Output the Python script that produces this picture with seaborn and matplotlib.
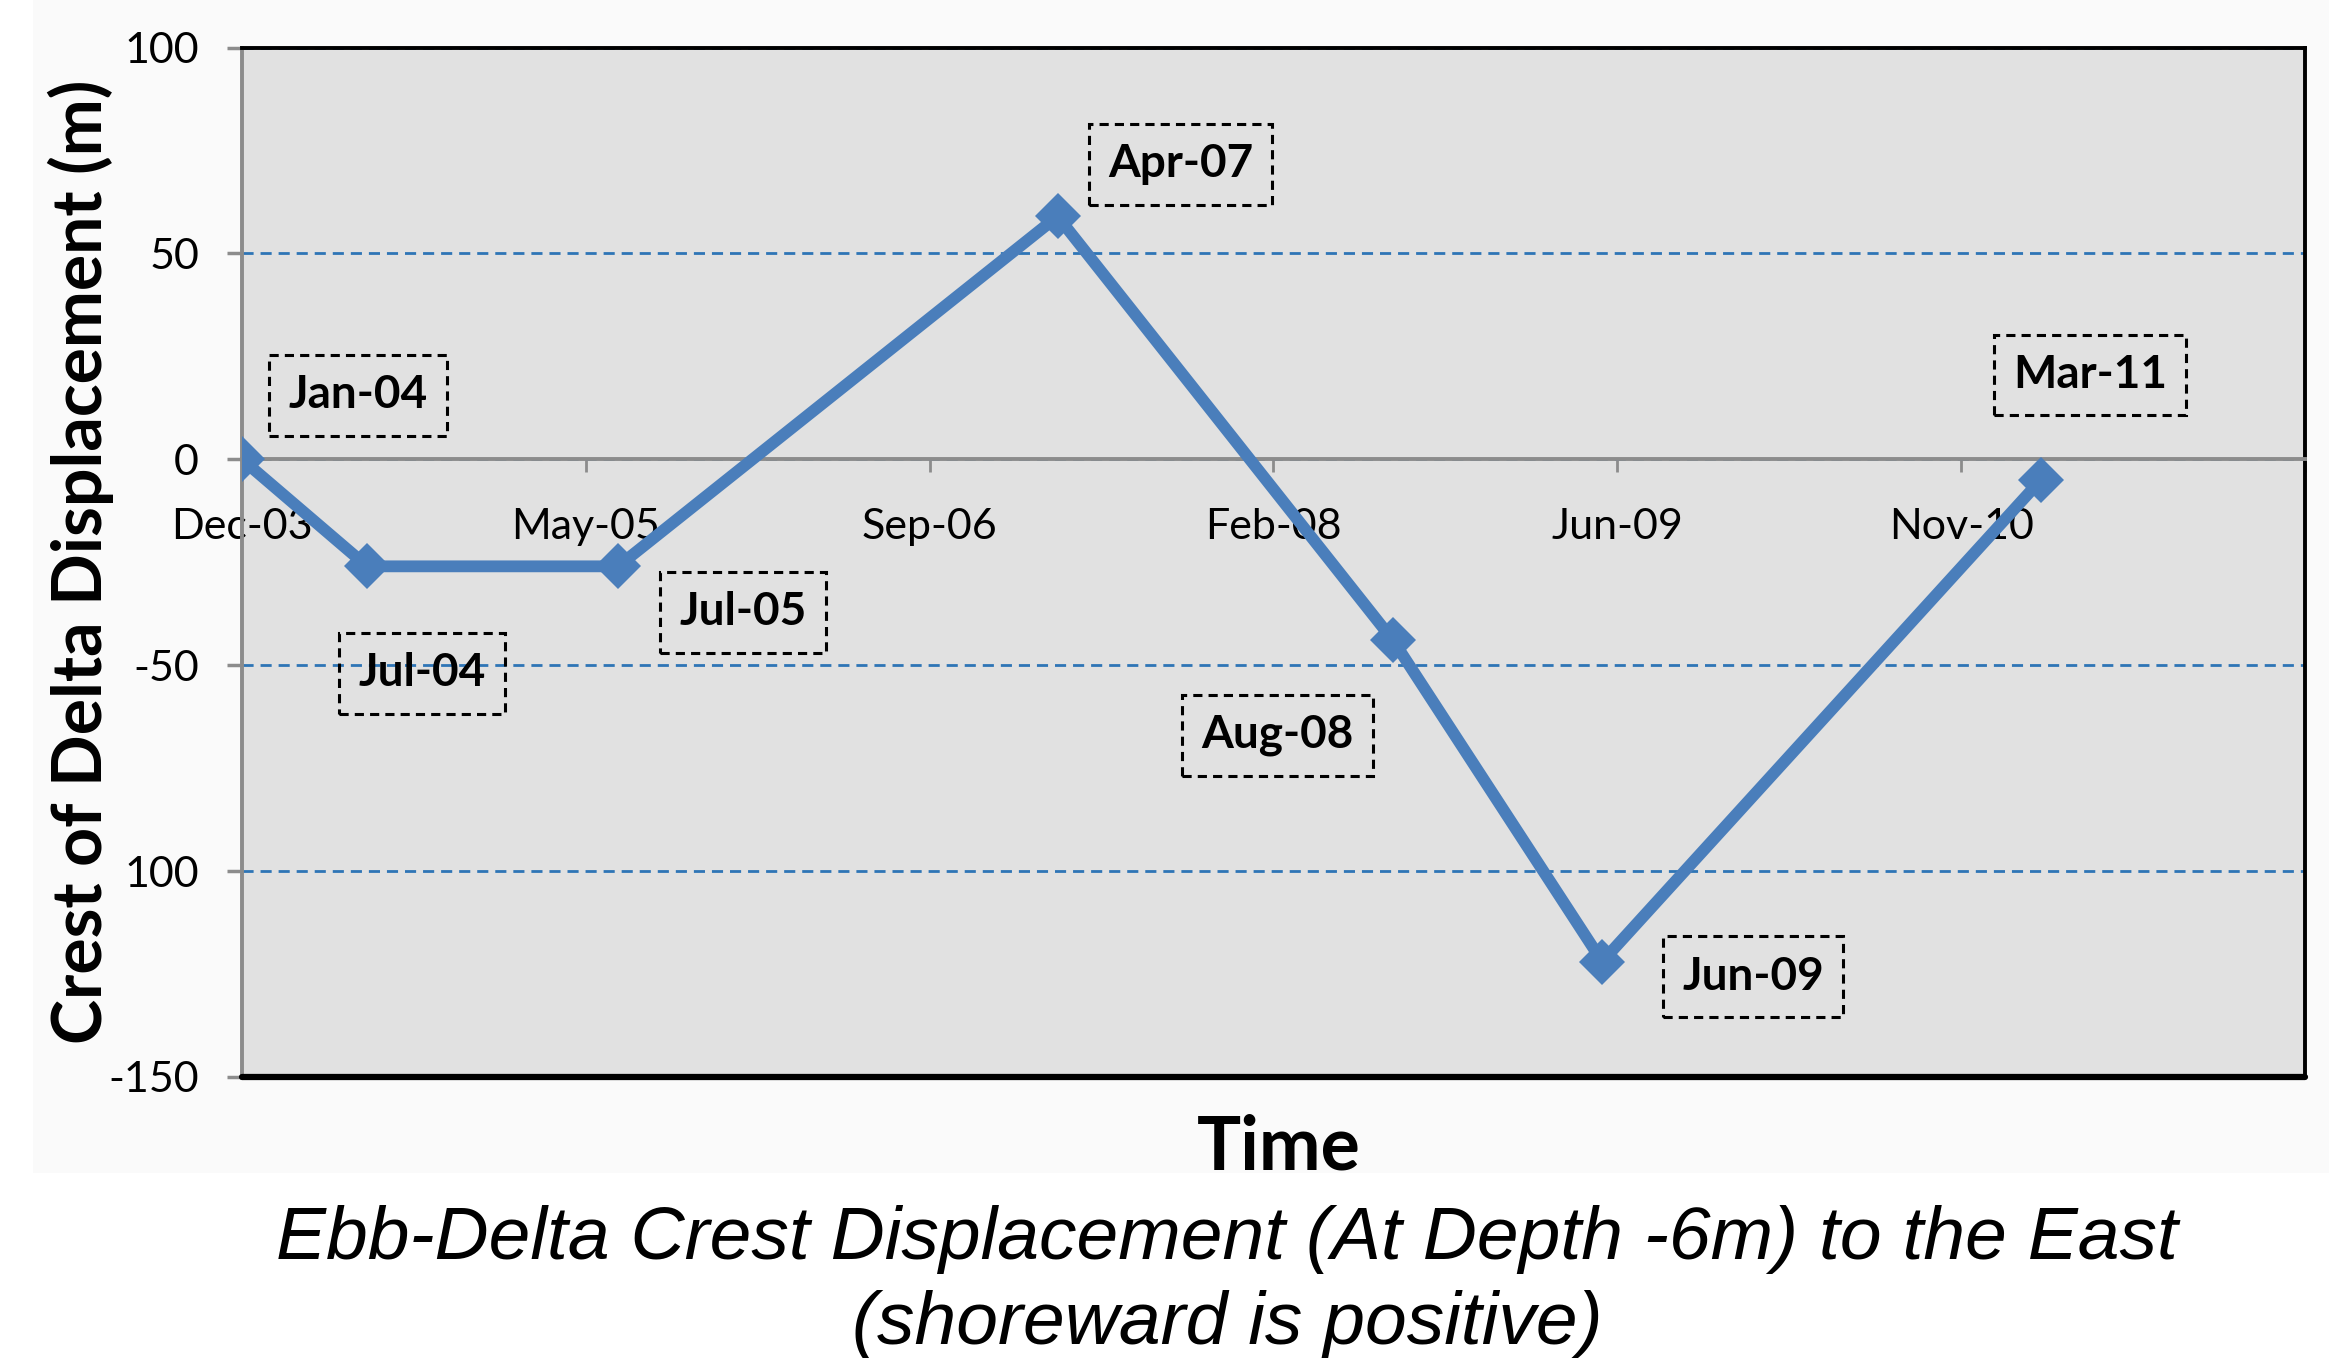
import matplotlib
matplotlib.use("Agg")
import matplotlib.pyplot as plt
import seaborn as sns
import pandas as pd
from matplotlib.patches import Rectangle

# data
survey_dates = ["2004-01-01", "2004-07-01", "2005-07-01", "2007-04-01",
                "2008-08-01", "2009-06-01", "2011-03-01"]
displacement = [0, -26, -26, 59, -44, -122, -5]
point_labels = ["Jan-04", "Jul-04", "Jul-05", "Apr-07", "Aug-08", "Jun-09", "Mar-11"]

x_tick_labels = ["Dec-03", "May-05", "Sep-06", "Feb-08", "Jun-09", "Nov-10", ""]
y_ticks = [-150, -100, -50, 0, 50, 100]
y_tick_labels = ["-150", "100", "-50", "0", "50", "100"]

# label box offsets (pixels from the point)
label_offsets = [(116, 64), (55, -107), (125, -46), (123, 52),
                 (-116, -95), (151, -15), (49, 105)]

df = pd.DataFrame({"date": pd.to_datetime(survey_dates), "disp": displacement})

sns.set_style("white")
plt.rcParams["font.family"] = ["Lato", "DejaVu Sans"]
plt.rcParams["text.color"] = "black"
plt.rcParams["xtick.labelcolor"] = "black"
plt.rcParams["ytick.labelcolor"] = "black"
plt.rcParams["axes.labelcolor"] = "black"

fig = plt.figure(figsize=(23.29, 13.58), dpi=100)
fig.patches.append(Rectangle((0.014, 0.136), 0.986, 0.864, transform=fig.transFigure,
                             facecolor="#FAFAFA", edgecolor="none", zorder=-10))
ax = fig.add_axes([0.1039, 0.207, 0.8858, 0.758])
ax.set_facecolor("#E1E1E1")

sns.lineplot(data=df, x="date", y="disp", ax=ax, color="#4A7EBB", linewidth=8.5,
             marker="D", markersize=23, markeredgewidth=0, zorder=5)

for d, v, lab, off in zip(df["date"], displacement, point_labels, label_offsets):
    ax.annotate(lab, (d, v), xytext=off, textcoords="offset pixels",
                ha="center", va="center", fontsize=33, fontweight="bold",
                bbox=dict(boxstyle="square,pad=0.42", facecolor="none",
                          edgecolor="black", linestyle=(0, (3, 2)), linewidth=2.2),
                zorder=6)

# x axis (Excel-style date axis, major unit 500 days)
start = pd.Timestamp("2004-01-01")
x_ticks = [start + pd.Timedelta(days=500 * k) for k in range(7)]
ax.set_xlim(x_ticks[0], x_ticks[-1])
ax.set_xticks(x_ticks)
ax.set_xticklabels(x_tick_labels)
ax.set_ylim(-150, 100)
ax.set_yticks(y_ticks)
ax.set_yticklabels(y_tick_labels)

ax.spines["bottom"].set_position(("data", 0))
ax.spines["bottom"].set_color("#8C8C8C")
ax.spines["bottom"].set_linewidth(2.8)
ax.spines["left"].set_color("#8C8C8C")
ax.spines["left"].set_linewidth(2.8)
for s in ["top", "right"]:
    ax.spines[s].set_color("black")
    ax.spines[s].set_linewidth(2.8)
ax.axhline(-150, color="black", linewidth=4.5, clip_on=False, zorder=4)

ax.tick_params(axis="x", direction="out", length=9, width=2, color="#8C8C8C",
               labelsize=31, pad=26, bottom=True)
ax.tick_params(axis="y", direction="out", length=11, width=2.5, color="#8C8C8C",
               labelsize=31, pad=20, left=True)

ax.yaxis.grid(True, linestyle=(0, (4, 2.5)), color="#2E75B6", linewidth=2)
ax.xaxis.grid(False)
ax.set_axisbelow(True)

ax.set_xlabel("")
ax.set_ylabel("Crest of Delta Displacement (m)", fontsize=49, fontweight="bold", labelpad=-4)
fig.text(0.549, 0.155, "Time", ha="center", va="center", fontsize=53, fontweight="bold")

fig.text(0.527, 0.087, "Ebb-Delta Crest Displacement (At Depth -6m) to the East",
         ha="center", va="center", fontsize=54, style="italic",
         family=["Liberation Sans", "DejaVu Sans"])
fig.text(0.527, 0.025, "(shoreward is positive)", ha="center", va="center",
         fontsize=54, style="italic", family=["Liberation Sans", "DejaVu Sans"])

fig.savefig("out.png", dpi=100)
